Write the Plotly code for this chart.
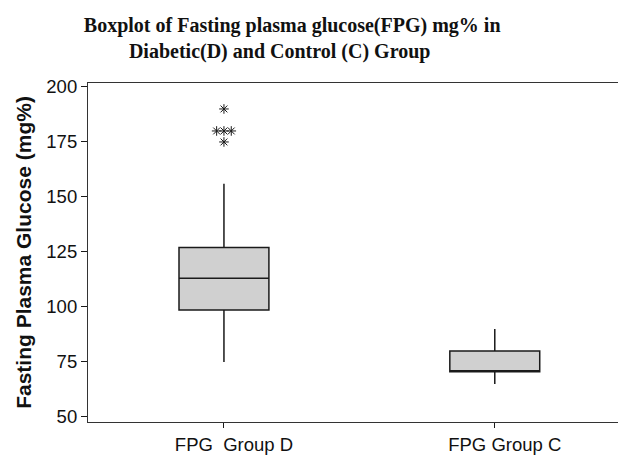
import plotly.graph_objects as go

# Data
groups = ["FPG  Group D", "FPG Group C"]
group_pos = [1, 2]
q1 = [98.6, 70.5]
median = [113, 70.5]
q3 = [127, 80]
lower_whisker = [75, 65]
upper_whisker = [156, 90]
outliers_D = [190, 180, 180, 180, 175]
y_ticks = [50, 75, 100, 125, 150, 175, 200]

LINE = "#1a1a1a"
FILL = "#d0d0d0"

fig = go.Figure()
fig.add_trace(go.Box(
    x=group_pos,
    q1=q1, median=median, q3=q3,
    lowerfence=lower_whisker, upperfence=upper_whisker,
    fillcolor=FILL,
    line=dict(color=LINE, width=1.5),
    width=0.332,
    whiskerwidth=0,
    boxpoints=False,
    showlegend=False,
    hoverinfo="skip",
))

# outliers: spread duplicate values horizontally like the reference
ox, oy = [], []
counts = {}
for v in outliers_D:
    counts[v] = counts.get(v, 0) + 1
seen = {}
for v in outliers_D:
    n = counts[v]
    k = seen.get(v, 0)
    seen[v] = k + 1
    ox.append(group_pos[0] + (k - (n - 1) / 2) * 0.027)
    oy.append(v)

fig.add_trace(go.Scatter(
    x=ox, y=oy, mode="markers",
    marker=dict(symbol="asterisk-open", size=8, color=LINE,
                line=dict(color=LINE, width=1)),
    showlegend=False, hoverinfo="skip",
))

fig.update_layout(
    width=619, height=455,
    margin=dict(l=88, r=1, t=83, b=33),
    paper_bgcolor="white", plot_bgcolor="white",
    title=dict(
        text="Boxplot of Fasting plasma glucose(FPG) mg% in<br>"
             "Diabetic(D) and Control (C) Group&nbsp;&nbsp;&nbsp;&nbsp;&nbsp;",
        font=dict(family="Liberation Serif", size=20, color="#111111"),
        x=0.472, xanchor="center", xref="container",
        y=1 - 32 / 455, yanchor="top", yref="container",
    ),
    font=dict(family="Liberation Sans", color="#111111"),
)
fig.update_layout(title_font_weight="bold")

fig.update_xaxes(
    range=[0.498, 2.455],
    tickmode="array", tickvals=group_pos, ticktext=groups,
    tickfont=dict(size=18.5),
    ticks="outside", ticklen=5, tickcolor=LINE,
    ticklabelshift=10, ticklabelstandoff=1,
    showline=True, linecolor="#333333", linewidth=1.2, mirror=True,
    showgrid=False, zeroline=False, automargin=False,
)
fig.update_yaxes(
    range=[47.7, 201.8],
    tickmode="array", tickvals=y_ticks,
    tickfont=dict(size=18.5),
    ticks="outside", ticklen=6, tickcolor=LINE,
    showline=True, linecolor="#333333", linewidth=1.2,
    showgrid=False, zeroline=False, automargin=False,
    title=dict(text="<b>Fasting Plasma Glucose (mg%)</b>",
               font=dict(size=21), standoff=8),
)

fig.write_html("out.html", config={"displayModeBar": False},
               post_script="document.body.style.margin='0';")
